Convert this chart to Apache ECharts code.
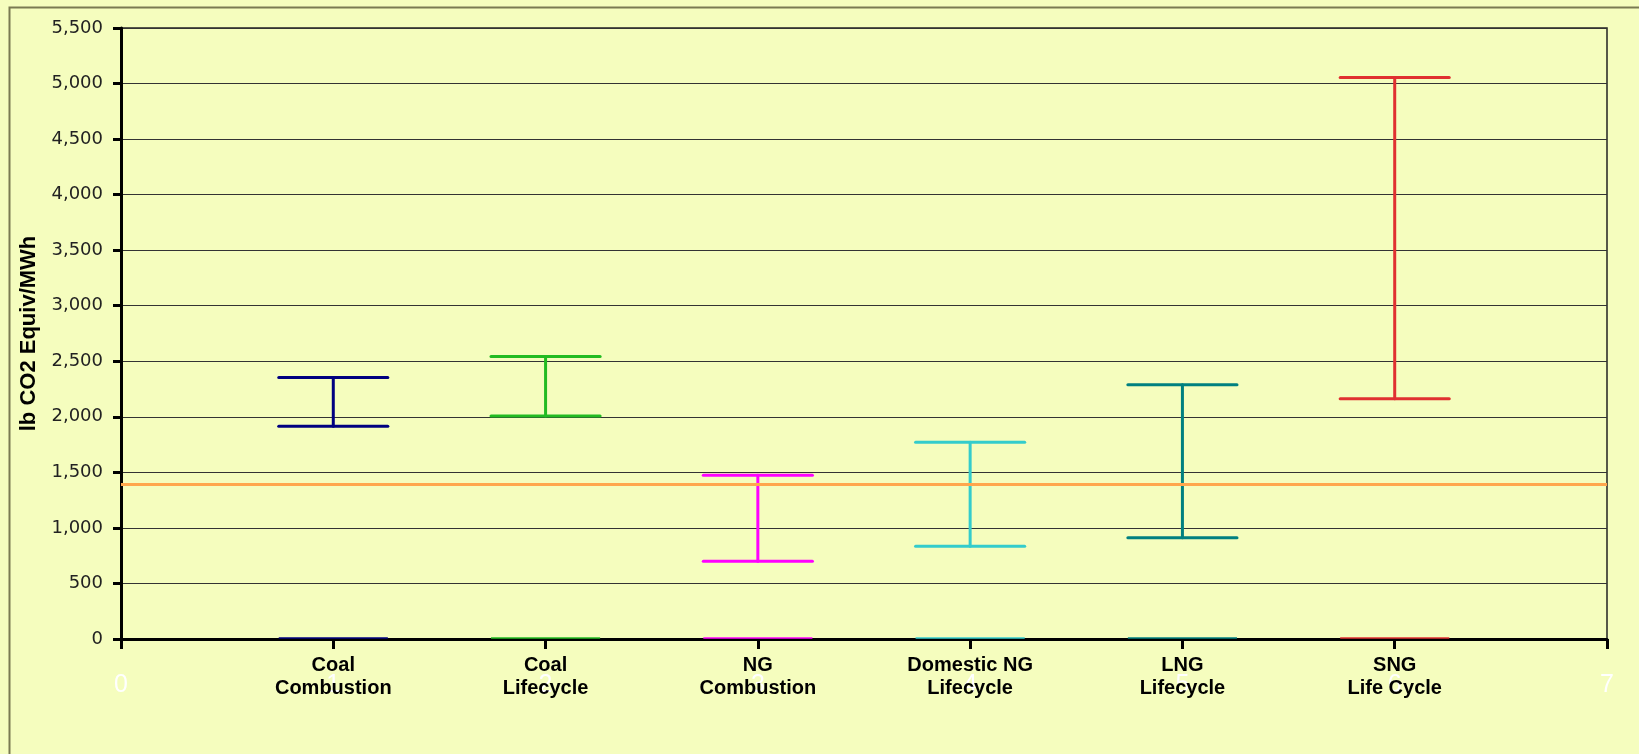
<!DOCTYPE html>
<html>
<head>
<meta charset="utf-8">
<style>
  html, body { margin: 0; padding: 0; background: #F5FDBE; }
  #chart { width: 1639px; height: 754px; }
</style>
<script src="https://cdn.jsdelivr.net/npm/echarts@6/dist/echarts.min.js"></script>
</head>
<body>
<div id="chart"></div>
<script>
// ---- data ----
const categories = ['Coal\nCombustion', 'Coal\nLifecycle', 'NG\nCombustion', 'Domestic NG\nLifecycle', 'LNG\nLifecycle', 'SNG\nLife Cycle'];
const categoryPositions = [1, 2, 3, 4, 5, 6];
const highValues = [2355, 2544, 1473, 1770, 2289, 5055];
const lowValues  = [1914, 2007, 700, 834, 912, 2163];
const zeroValues = [0, 0, 0, 0, 0, 0];
const barColors  = ['#000080', '#22BB22', '#FF00FF', '#33CCCC', '#008080', '#E03030'];
const referenceValue = 1390;
const referenceX = [0, 7];
const xTicks = [0, 1, 2, 3, 4, 5, 6, 7];
const yTicks = [0, 500, 1000, 1500, 2000, 2500, 3000, 3500, 4000, 4500, 5000, 5500];

const capHalfWidth = 0.257;

const chart = echarts.init(document.getElementById('chart'), null, { renderer: 'canvas' });

const barData = categoryPositions.map((x, i) => [x, lowValues[i], highValues[i], zeroValues[i], i]);

function renderBar(params, api) {
  const x = api.value(0);
  const lo = api.value(1);
  const hi = api.value(2);
  const z0 = api.value(3);
  const idx = api.value(4);
  const pLo = api.coord([x, lo]);
  const pHi = api.coord([x, hi]);
  const pZero = api.coord([x, z0]);
  const half = api.size([capHalfWidth, 0])[0];
  const color = barColors[idx];
  const st = { stroke: color, lineWidth: 3, lineCap: 'round' };
  return {
    type: 'group',
    children: [
      { type: 'line', shape: { x1: pLo[0], y1: pLo[1], x2: pHi[0], y2: pHi[1] }, style: st },
      { type: 'line', shape: { x1: pHi[0] - half, y1: pHi[1], x2: pHi[0] + half, y2: pHi[1] }, style: st },
      { type: 'line', shape: { x1: pLo[0] - half, y1: pLo[1], x2: pLo[0] + half, y2: pLo[1] }, style: st },
      { type: 'line', shape: { x1: pZero[0] - half, y1: pZero[1] - 1, x2: pZero[0] + half, y2: pZero[1] - 1 }, style: { stroke: color, lineWidth: 1.5 } }
    ]
  };
}

const option = {
  backgroundColor: '#F5FDBE',
  animation: false,
  graphic: [
    { type: 'rect', left: 7, top: 5, shape: { x: 0, y: 0, width: 2000, height: 2000 },
      style: { fill: 'none', stroke: '#7A7A52', lineWidth: 2 }, z: -1, silent: true }
  ],
  grid: {
    left: 121, right: 32, top: 28, bottom: 115,
    show: true, borderColor: '#222', borderWidth: 1.5, backgroundColor: 'transparent'
  },
  xAxis: [
    {
      type: 'value', min: xTicks[0], max: xTicks[xTicks.length - 1], interval: 1,
      position: 'bottom', offset: 0,
      axisLine: { show: true, lineStyle: { color: '#000', width: 3 } },
      axisTick: { show: true, length: 10, lineStyle: { color: '#000', width: 3 } },
      splitLine: { show: false },
      axisLabel: { color: '#FFFFFF', fontFamily: 'Liberation Sans, Arial', fontSize: 25, margin: 34 }
    },
    {
      type: 'value', min: xTicks[0], max: xTicks[xTicks.length - 1], interval: 1,
      position: 'bottom', offset: 0, z: 5,
      axisLine: { show: false }, axisTick: { show: false }, splitLine: { show: false },
      axisLabel: {
        color: '#000', fontFamily: 'Liberation Sans, Arial', fontWeight: 'bold', fontSize: 20, lineHeight: 23,
        margin: 15, align: 'center',
        formatter: function (v) {
          const i = categoryPositions.indexOf(v);
          return i >= 0 ? categories[i] : '';
        }
      }
    }
  ],
  yAxis: {
    type: 'value', min: yTicks[0], max: yTicks[yTicks.length - 1], interval: 500,
    name: 'lb CO2 Equiv/MWh', nameLocation: 'middle', nameGap: 81, nameRotate: 90,
    nameTextStyle: { color: '#000', fontFamily: 'Liberation Sans, Arial', fontWeight: 'bold', fontSize: 22 },
    axisLine: { show: true, lineStyle: { color: '#000', width: 3 } },
    axisTick: { show: true, length: 8, lineStyle: { color: '#000', width: 3 } },
    splitLine: { show: true, lineStyle: { color: '#333', width: 1.2 } },
    axisLabel: {
      color: '#222', fontFamily: 'DejaVu Sans, Verdana', fontSize: 18, margin: 18,
      formatter: v => v.toLocaleString('en-US')
    }
  },
  series: [
    {
      type: 'custom', xAxisIndex: 0, yAxisIndex: 0, z: 3,
      renderItem: renderBar,
      data: barData,
      encode: { x: 0, y: [1, 2] }
    },
    {
      type: 'line', xAxisIndex: 0, yAxisIndex: 0, z: 4,
      symbol: 'none',
      lineStyle: { color: '#FFA64D', width: 3 },
      data: referenceX.map(x => [x, referenceValue])
    }
  ]
};

chart.setOption(option);
</script>
</body>
</html>
